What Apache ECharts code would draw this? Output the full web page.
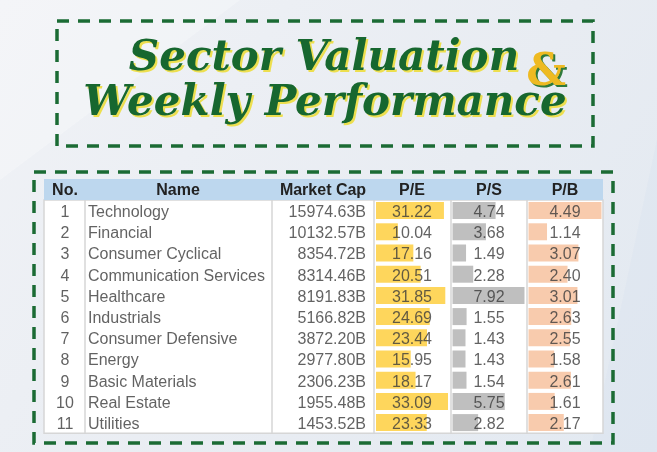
<!DOCTYPE html>
<html><head><meta charset="utf-8">
<script src="https://cdn.jsdelivr.net/npm/echarts@6/dist/echarts.min.js"></script>
<style>html,body{margin:0;padding:0;}#c{width:657px;height:452px;}</style>
</head><body><div id="c"></div>
<script>
const headers = ['No.', 'Name', 'Market Cap', 'P/E', 'P/S', 'P/B'];
const rankNo = ['1','2','3','4','5','6','7','8','9','10','11'];
const sectors = ['Technology','Financial','Consumer Cyclical','Communication Services','Healthcare','Industrials','Consumer Defensive','Energy','Basic Materials','Real Estate','Utilities'];
const marketCap = [15974.63, 10132.57, 8354.72, 8314.46, 8191.83, 5166.82, 3872.20, 2977.80, 2306.23, 1955.48, 1453.52];
const pe = [31.22, 10.04, 17.16, 20.51, 31.85, 24.69, 23.44, 15.95, 18.17, 33.09, 23.33];
const ps = [4.74, 3.68, 1.49, 2.28, 7.92, 1.55, 1.43, 1.43, 1.54, 5.75, 2.82];
const pb = [4.49, 1.14, 3.07, 2.40, 3.01, 2.63, 2.55, 1.58, 2.61, 1.61, 2.17];
const titleLine1 = 'Sector Valuation';
const titleLine2 = 'Weekly Performance';
const titleAmp = '&';

const chart = echarts.init(document.getElementById('c'));
const T_LEFT = 44, T_RIGHT = 603, H_TOP = 179, B_TOP = 200, B_H = 233.2;
const colEdges = [44, 85, 272, 374, 451, 527, 603];
const rowIdx = sectors.map((s, i) => String(i));
const FONT = '"Liberation Sans", Arial, sans-serif';
const TXT = '#3b3b3b';

function textSeries(vals, x, pos, fmt) {
  return {
    type: 'scatter', xAxisIndex: 3, yAxisIndex: 3, symbolSize: 0, silent: true, z: 5,
    data: vals.map((v, i) => [x, i, v]),
    label: { show: true, position: pos, distance: 0, offset: [0, 2], color: TXT, fontSize: 16, fontFamily: FONT,
      formatter: p => fmt(p.data[2]) }
  };
}
function barGrid(left, width) { return { left, top: B_TOP, width, height: B_H }; }

const dash = [12, 9];
function dashedBox(x1, y1, x2, y2) {
  return { type: 'rect', shape: { x: x1, y: y1, width: x2 - x1, height: y2 - y1 }, z: 1,
    style: { fill: 'none', stroke: '#1b6b34', lineWidth: 3.5, lineDash: dash } };
}
function tText(text, x, y, fill, font, z) {
  return { type: 'text', x, y, z, style: { text, fill, font, textAlign: 'center', textVerticalAlign: 'middle', align: 'center', verticalAlign: 'middle' } };
}
const TF = 'italic bold 42px "DejaVu Serif"';
const AF = 'bold 44px "DejaVu Serif"';

const graphics = [
  { type: 'rect', shape: { x: 0, y: 0, width: 657, height: 452 }, z: -10,
    style: { fill: new echarts.graphic.LinearGradient(0, 0, 1, 1, [
      { offset: 0, color: '#f0f2f6' }, { offset: 0.6, color: '#e8ecf2' }, { offset: 1, color: '#e2e9f1' }]) } },
  { type: 'polygon', shape: { points: [[0, 0], [240, 0], [0, 180]] }, z: -9, style: { fill: 'rgba(255,255,255,0.25)' } },
  { type: 'polygon', shape: { points: [[657, 140], [657, 452], [590, 452]] }, z: -9, style: { fill: 'rgba(210,222,238,0.25)' } },
  dashedBox(57, 21, 593, 146),
  dashedBox(34, 172, 613, 443),
  { type: 'rect', shape: { x: T_LEFT, y: H_TOP, width: T_RIGHT - T_LEFT, height: B_TOP - H_TOP }, z: 1,
    style: { fill: '#bdd7ee' } },
  tText(titleLine1, 326, 61, '#eddf4f', TF, 2),
  tText(titleLine1, 324, 59, '#17672f', TF, 3),
  tText(titleAmp, 548, 76, '#2f7a3c', AF, 2),
  tText(titleAmp, 546, 74, '#eeba22', AF, 3),
  tText(titleLine2, 327, 106, '#eddf4f', TF, 2),
  tText(titleLine2, 325, 104, '#17672f', TF, 3)
];
for (let k = 1; k < colEdges.length - 1; k++) {
  graphics.push({ type: 'line', shape: { x1: colEdges[k], y1: B_TOP, x2: colEdges[k], y2: B_TOP + B_H }, z: 4,
    style: { stroke: '#d6d6d6', lineWidth: 1.5 } });
}
const headerX = [65, 178, 323, 412, 489, 565];
headers.forEach((h, i) => graphics.push({ type: 'text', x: headerX[i], y: (H_TOP + B_TOP) / 2 + 1, z: 5,
  style: { text: h, fill: '#222', font: 'bold 16px ' + FONT, textAlign: 'center', textVerticalAlign: 'middle', align: 'center', verticalAlign: 'middle' } }));

const catAxis = (gi) => ({ type: 'category', gridIndex: gi, data: rowIdx, inverse: true, show: false });
const valAxis = (gi, max) => ({ type: 'value', gridIndex: gi, min: 0, max, show: false });

const option = {
  animation: false,
  graphic: graphics,
  grid: [
    barGrid(376, 72), barGrid(452.5, 72), barGrid(528.5, 73),
    { left: T_LEFT, top: B_TOP, width: T_RIGHT - T_LEFT, height: B_H, show: true, backgroundColor: '#ffffff', borderColor: '#d6d6d6', borderWidth: 1.5, z: 1 }
  ],
  xAxis: [valAxis(0, Math.max(...pe)), valAxis(1, Math.max(...ps)), valAxis(2, Math.max(...pb)),
    { type: 'value', gridIndex: 3, min: 0, max: T_RIGHT - T_LEFT, show: false }],
  yAxis: [catAxis(0), catAxis(1), catAxis(2),
    { type: 'category', gridIndex: 3, data: rowIdx, inverse: true, boundaryGap: true,
      axisLine: { show: false }, axisTick: { show: false }, axisLabel: { show: false },
      splitLine: { show: true, lineStyle: { color: '#d6d6d6', width: 1.5 } } }],
  series: [
    { type: 'bar', xAxisIndex: 0, yAxisIndex: 0, data: pe, barWidth: 17, itemStyle: { color: '#fed65c' }, z: 3 },
    { type: 'bar', xAxisIndex: 1, yAxisIndex: 1, data: ps, barWidth: 17, itemStyle: { color: '#bfbfbf' }, z: 3 },
    { type: 'bar', xAxisIndex: 2, yAxisIndex: 2, data: pb, barWidth: 17, itemStyle: { color: '#f8cbad' }, z: 3 },
    textSeries(rankNo, 21, 'inside', v => v),
    textSeries(sectors, 44, 'right', v => v),
    textSeries(marketCap, 322, 'left', v => v.toFixed(2) + 'B'),
    textSeries(pe, 368, 'inside', v => v.toFixed(2)),
    textSeries(ps, 445, 'inside', v => v.toFixed(2)),
    textSeries(pb, 521, 'inside', v => v.toFixed(2))
  ]
};
chart.setOption(option);
</script></body></html>
